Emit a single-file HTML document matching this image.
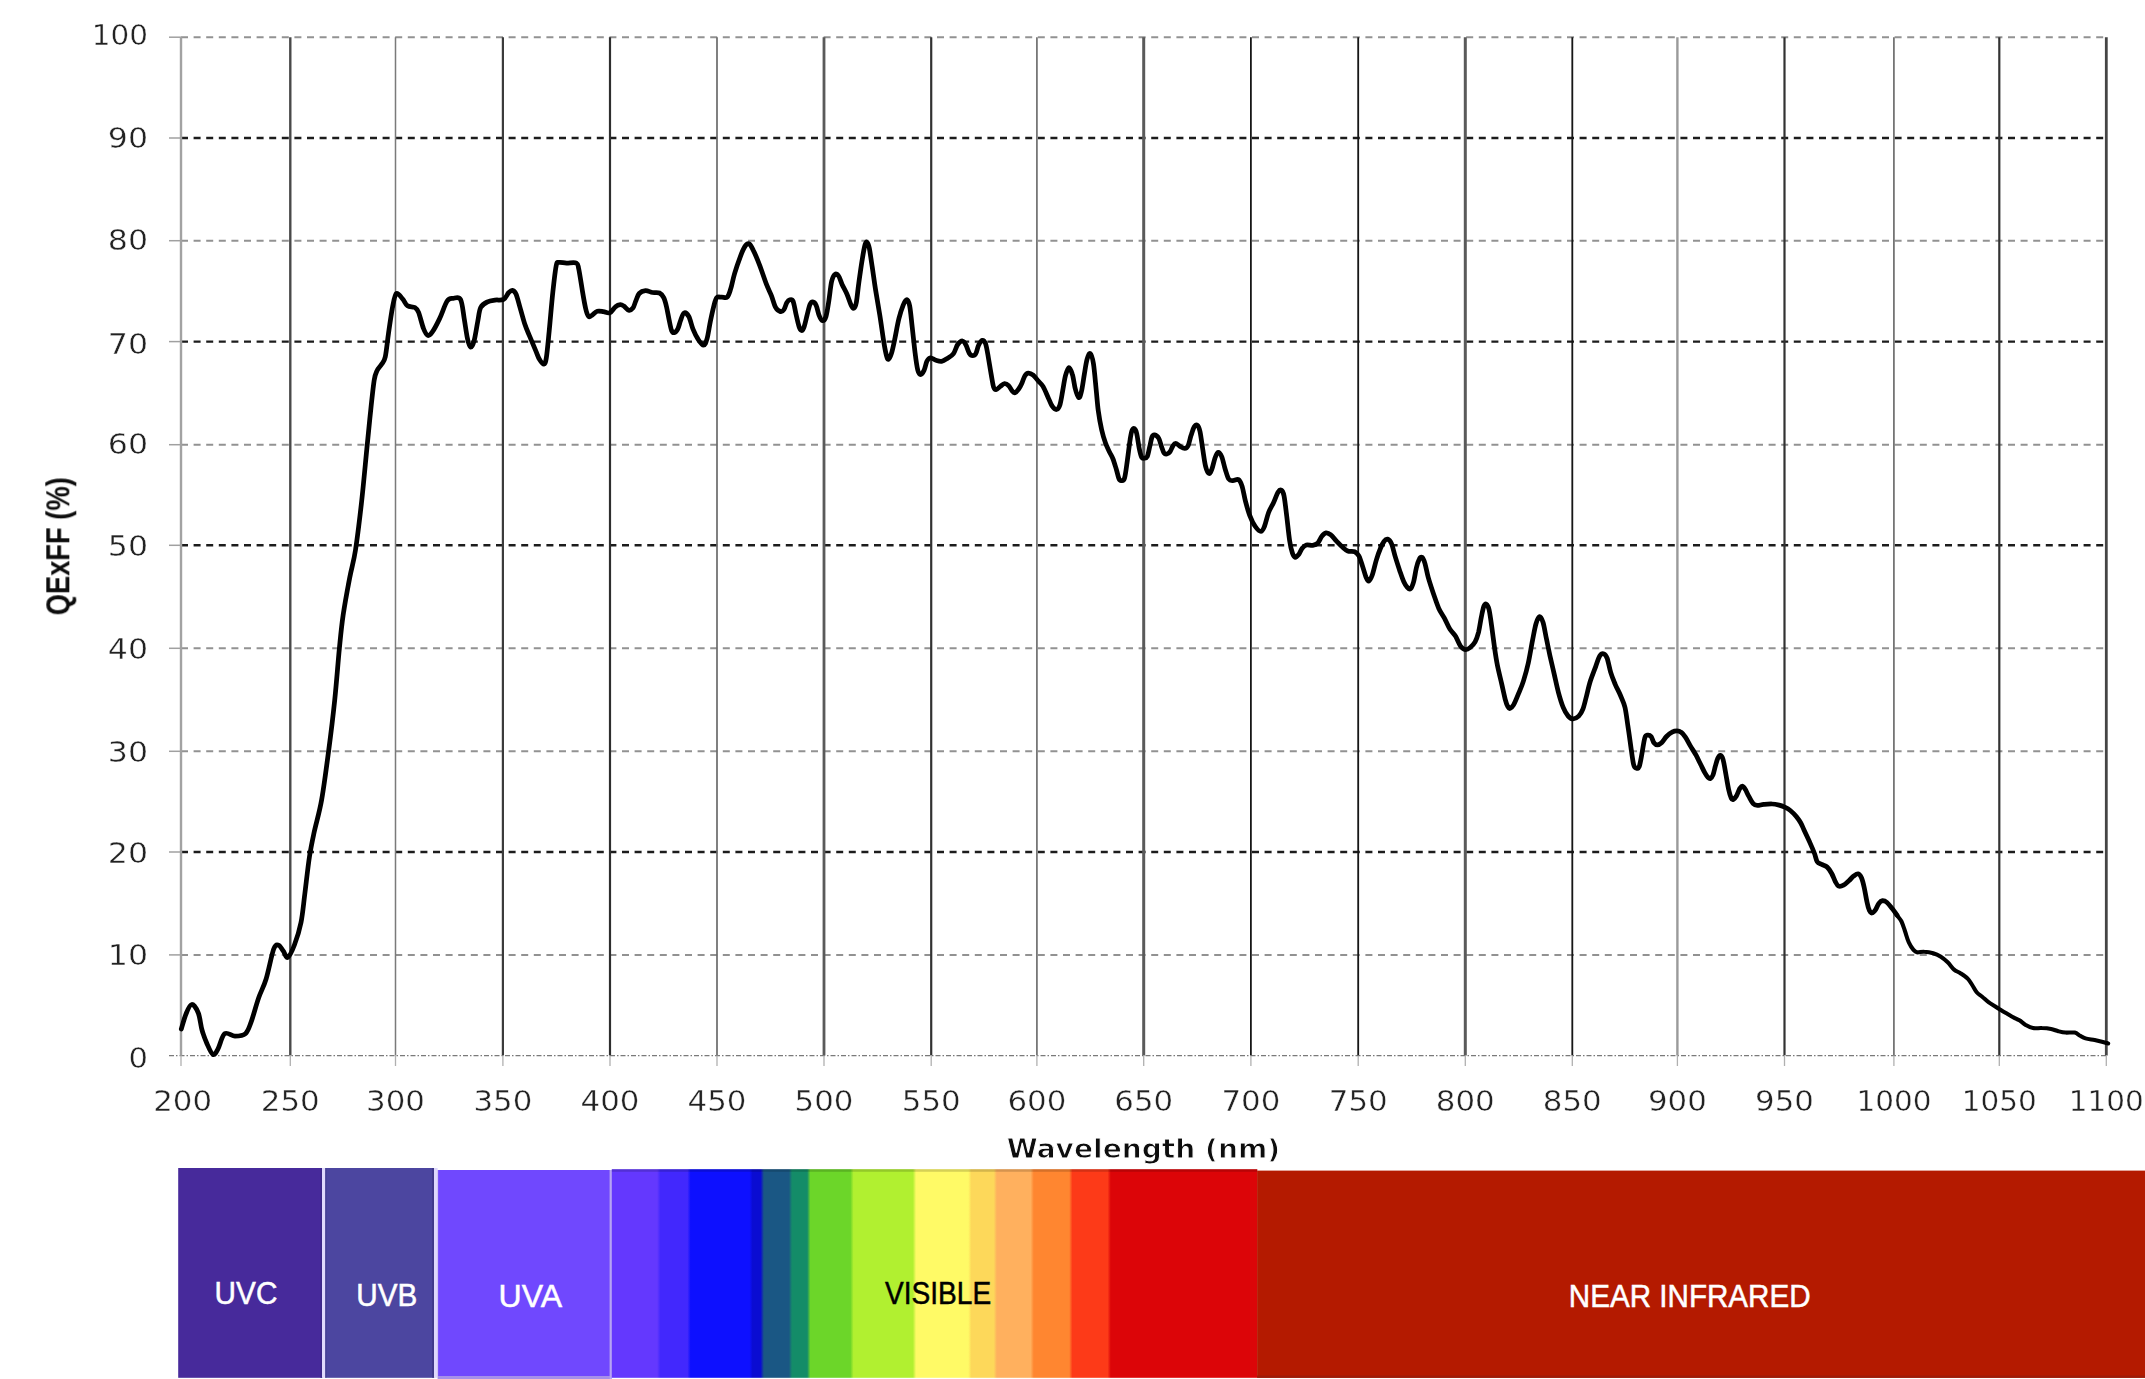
<!DOCTYPE html>
<html lang="en"><head><meta charset="utf-8"><title>QExFF vs Wavelength</title>
<style>html,body{margin:0;padding:0;background:#fff;}body{width:2145px;height:1379px;overflow:hidden;}svg{display:block;}.t{font-family:"DejaVu Sans","Liberation Sans",sans-serif;font-size:29.2px;fill:#222;stroke:#fff;stroke-width:0.4px;}.b{font-family:"Liberation Sans","DejaVu Sans",sans-serif;fill:#fff;font-size:31.3px;stroke-width:0.5px;}</style></head><body>
<svg width="2145" height="1379" viewBox="0 0 2145 1379">
<rect width="2145" height="1379" fill="#fff"/>
<defs><filter id="soft" x="0" y="0" width="2145" height="1379" filterUnits="userSpaceOnUse"><feGaussianBlur stdDeviation="0.55"/></filter></defs>
<g filter="url(#soft)">
<g fill="none">
<line x1="169" x2="181.0" y1="37.2" y2="37.2" stroke="#a0a0a0" stroke-width="1.5"/>
<line x1="181.0" x2="2107.3" y1="37.2" y2="37.2" stroke="#929292" stroke-width="2.0" stroke-dasharray="7 5.6"/>
<line x1="169" x2="181.0" y1="138.0" y2="138.0" stroke="#a0a0a0" stroke-width="1.5"/>
<line x1="181.0" x2="2107.3" y1="138.0" y2="138.0" stroke="#1e1e1e" stroke-width="2.4" stroke-dasharray="7 5.6"/>
<line x1="169" x2="181.0" y1="240.7" y2="240.7" stroke="#a0a0a0" stroke-width="1.5"/>
<line x1="181.0" x2="2107.3" y1="240.7" y2="240.7" stroke="#929292" stroke-width="2.0" stroke-dasharray="7 5.6"/>
<line x1="169" x2="181.0" y1="341.6" y2="341.6" stroke="#a0a0a0" stroke-width="1.5"/>
<line x1="181.0" x2="2107.3" y1="341.6" y2="341.6" stroke="#1e1e1e" stroke-width="2.4" stroke-dasharray="7 5.6"/>
<line x1="169" x2="181.0" y1="444.7" y2="444.7" stroke="#a0a0a0" stroke-width="1.5"/>
<line x1="181.0" x2="2107.3" y1="444.7" y2="444.7" stroke="#929292" stroke-width="2.0" stroke-dasharray="7 5.6"/>
<line x1="169" x2="181.0" y1="545.3" y2="545.3" stroke="#a0a0a0" stroke-width="1.5"/>
<line x1="181.0" x2="2107.3" y1="545.3" y2="545.3" stroke="#1e1e1e" stroke-width="2.4" stroke-dasharray="7 5.6"/>
<line x1="169" x2="181.0" y1="648.3" y2="648.3" stroke="#a0a0a0" stroke-width="1.5"/>
<line x1="181.0" x2="2107.3" y1="648.3" y2="648.3" stroke="#929292" stroke-width="2.0" stroke-dasharray="7 5.6"/>
<line x1="169" x2="181.0" y1="751.3" y2="751.3" stroke="#a0a0a0" stroke-width="1.5"/>
<line x1="181.0" x2="2107.3" y1="751.3" y2="751.3" stroke="#929292" stroke-width="2.0" stroke-dasharray="7 5.6"/>
<line x1="169" x2="181.0" y1="852.0" y2="852.0" stroke="#a0a0a0" stroke-width="1.5"/>
<line x1="181.0" x2="2107.3" y1="852.0" y2="852.0" stroke="#1e1e1e" stroke-width="2.4" stroke-dasharray="7 5.6"/>
<line x1="169" x2="181.0" y1="954.9" y2="954.9" stroke="#a0a0a0" stroke-width="1.5"/>
<line x1="181.0" x2="2107.3" y1="954.9" y2="954.9" stroke="#929292" stroke-width="2.0" stroke-dasharray="7 5.6"/>
<line x1="169" x2="2107.3" y1="1055.6" y2="1055.6" stroke="#7a7a7a" stroke-width="1.3" stroke-dasharray="5 2 1.5 2"/>
<line x1="181.0" x2="181.0" y1="37.2" y2="1055.6" stroke="#a2a2a2" stroke-width="2.4"/>
<line x1="181.0" x2="181.0" y1="1055.6" y2="1066" stroke="#b0b0b0" stroke-width="1.3"/>
<line x1="290.3" x2="290.3" y1="37.2" y2="1055.6" stroke="#4a4a4a" stroke-width="2.4"/>
<line x1="290.3" x2="290.3" y1="1055.6" y2="1066" stroke="#b0b0b0" stroke-width="1.3"/>
<line x1="395.5" x2="395.5" y1="37.2" y2="1055.6" stroke="#7a7a7a" stroke-width="1.5"/>
<line x1="395.5" x2="395.5" y1="1055.6" y2="1066" stroke="#b0b0b0" stroke-width="1.3"/>
<line x1="502.9" x2="502.9" y1="37.2" y2="1055.6" stroke="#3a3a3a" stroke-width="2.2"/>
<line x1="502.9" x2="502.9" y1="1055.6" y2="1066" stroke="#b0b0b0" stroke-width="1.3"/>
<line x1="610.0" x2="610.0" y1="37.2" y2="1055.6" stroke="#2e2e2e" stroke-width="2.2"/>
<line x1="610.0" x2="610.0" y1="1055.6" y2="1066" stroke="#b0b0b0" stroke-width="1.3"/>
<line x1="717.0" x2="717.0" y1="37.2" y2="1055.6" stroke="#6a6a6a" stroke-width="1.7"/>
<line x1="717.0" x2="717.0" y1="1055.6" y2="1066" stroke="#b0b0b0" stroke-width="1.3"/>
<line x1="824.0" x2="824.0" y1="37.2" y2="1055.6" stroke="#5a5a5a" stroke-width="2.8"/>
<line x1="824.0" x2="824.0" y1="1055.6" y2="1066" stroke="#b0b0b0" stroke-width="1.3"/>
<line x1="931.2" x2="931.2" y1="37.2" y2="1055.6" stroke="#333333" stroke-width="2.2"/>
<line x1="931.2" x2="931.2" y1="1055.6" y2="1066" stroke="#b0b0b0" stroke-width="1.3"/>
<line x1="1036.9" x2="1036.9" y1="37.2" y2="1055.6" stroke="#777777" stroke-width="1.8"/>
<line x1="1036.9" x2="1036.9" y1="1055.6" y2="1066" stroke="#b0b0b0" stroke-width="1.3"/>
<line x1="1143.7" x2="1143.7" y1="37.2" y2="1055.6" stroke="#5a5a5a" stroke-width="3.0"/>
<line x1="1143.7" x2="1143.7" y1="1055.6" y2="1066" stroke="#b0b0b0" stroke-width="1.3"/>
<line x1="1250.9" x2="1250.9" y1="37.2" y2="1055.6" stroke="#161616" stroke-width="1.8"/>
<line x1="1250.9" x2="1250.9" y1="1055.6" y2="1066" stroke="#b0b0b0" stroke-width="1.3"/>
<line x1="1358.2" x2="1358.2" y1="37.2" y2="1055.6" stroke="#161616" stroke-width="1.8"/>
<line x1="1358.2" x2="1358.2" y1="1055.6" y2="1066" stroke="#b0b0b0" stroke-width="1.3"/>
<line x1="1465.3" x2="1465.3" y1="37.2" y2="1055.6" stroke="#5a5a5a" stroke-width="3.0"/>
<line x1="1465.3" x2="1465.3" y1="1055.6" y2="1066" stroke="#b0b0b0" stroke-width="1.3"/>
<line x1="1572.3" x2="1572.3" y1="37.2" y2="1055.6" stroke="#161616" stroke-width="1.8"/>
<line x1="1572.3" x2="1572.3" y1="1055.6" y2="1066" stroke="#b0b0b0" stroke-width="1.3"/>
<line x1="1677.4" x2="1677.4" y1="37.2" y2="1055.6" stroke="#9a9a9a" stroke-width="2.4"/>
<line x1="1677.4" x2="1677.4" y1="1055.6" y2="1066" stroke="#b0b0b0" stroke-width="1.3"/>
<line x1="1784.5" x2="1784.5" y1="37.2" y2="1055.6" stroke="#333333" stroke-width="2.2"/>
<line x1="1784.5" x2="1784.5" y1="1055.6" y2="1066" stroke="#b0b0b0" stroke-width="1.3"/>
<line x1="1893.9" x2="1893.9" y1="37.2" y2="1055.6" stroke="#6e6e6e" stroke-width="1.7"/>
<line x1="1893.9" x2="1893.9" y1="1055.6" y2="1066" stroke="#b0b0b0" stroke-width="1.3"/>
<line x1="1999.3" x2="1999.3" y1="37.2" y2="1055.6" stroke="#333333" stroke-width="2.2"/>
<line x1="1999.3" x2="1999.3" y1="1055.6" y2="1066" stroke="#b0b0b0" stroke-width="1.3"/>
<line x1="2106.3" x2="2106.3" y1="37.2" y2="1055.6" stroke="#444444" stroke-width="2.8"/>
<line x1="2106.3" x2="2106.3" y1="1055.6" y2="1066" stroke="#b0b0b0" stroke-width="1.3"/>
</g>
<path d="M181.3 1029.0C182.1 1026.5 184.3 1018.1 186.0 1014.0C187.7 1009.9 189.6 1004.7 191.7 1004.5C193.8 1004.3 196.6 1008.8 198.3 1013.0C200.0 1017.2 200.6 1025.0 202.0 1030.0C203.4 1035.0 205.0 1039.1 206.8 1043.2C208.6 1047.3 211.1 1053.6 213.0 1054.5C214.9 1055.4 216.1 1052.3 218.0 1048.8C219.9 1045.3 221.9 1035.8 224.7 1033.7C227.5 1031.6 231.6 1036.0 235.0 1036.0C238.4 1036.0 242.7 1036.0 245.4 1033.7C248.1 1031.4 248.8 1028.3 251.0 1022.4C253.2 1016.4 256.1 1005.2 258.6 998.0C261.1 990.8 263.6 987.2 266.1 979.0C268.6 970.8 271.6 954.6 273.7 949.0C275.8 943.4 276.8 944.8 278.4 945.1C280.0 945.4 281.5 948.8 283.1 950.8C284.7 952.8 285.9 958.4 287.8 957.4C289.7 956.4 292.2 950.8 294.4 945.0C296.6 939.2 299.3 931.0 301.0 922.5C302.7 914.0 303.4 905.0 304.8 894.0C306.2 883.0 307.9 866.8 309.5 856.5C311.1 846.2 312.2 841.4 314.2 832.0C316.2 822.6 319.2 813.5 321.6 800.0C324.0 786.5 326.4 767.7 328.6 751.1C330.8 734.5 332.9 717.4 334.7 700.2C336.5 683.1 338.0 662.3 339.4 648.2C340.8 634.1 341.4 627.1 343.1 615.4C344.8 603.6 347.6 588.6 349.7 577.7C351.8 566.8 353.6 562.4 355.5 550.0C357.4 537.6 359.5 520.3 361.4 503.5C363.3 486.7 365.3 464.4 366.8 449.2C368.3 434.0 369.3 423.8 370.5 412.3C371.7 400.8 373.1 387.2 374.2 380.2C375.3 373.2 376.0 373.1 377.2 370.4C378.4 367.7 380.2 366.5 381.6 364.2C383.0 361.9 384.2 361.9 385.3 356.8C386.4 351.7 387.3 341.8 388.5 333.4C389.7 325.0 391.4 312.9 392.7 306.3C394.0 299.7 394.8 294.7 396.4 293.5C398.0 292.3 400.8 296.8 402.6 298.9C404.5 300.9 405.4 304.4 407.5 305.8C409.6 307.2 413.0 306.4 414.9 307.5C416.8 308.6 417.2 308.9 418.6 312.4C420.0 315.9 422.0 324.7 423.5 328.5C425.0 332.3 426.2 334.8 427.7 335.4C429.1 336.0 430.2 335.0 432.2 332.2C434.2 329.4 437.1 323.8 439.6 318.6C442.1 313.5 444.8 304.7 447.0 301.3C449.2 297.9 450.9 298.7 453.1 298.4C455.4 298.1 458.6 296.0 460.5 299.4C462.4 302.8 463.1 312.1 464.2 318.6C465.3 325.1 466.4 333.6 467.4 338.3C468.4 343.0 469.3 346.6 470.4 347.0C471.5 347.4 472.9 345.1 474.1 340.8C475.3 336.5 476.7 326.7 477.8 321.1C478.9 315.6 479.1 310.7 480.7 307.5C482.3 304.3 485.2 303.0 487.6 301.8C490.0 300.6 492.3 300.5 495.0 300.1C497.7 299.7 501.3 300.6 503.6 299.4C505.9 298.2 507.2 294.2 508.6 292.7C510.1 291.2 511.1 290.1 512.3 290.3C513.5 290.5 514.8 291.3 516.0 294.0C517.2 296.7 518.3 301.4 519.7 306.3C521.1 311.2 523.0 318.6 524.6 323.5C526.2 328.4 527.6 331.4 529.5 335.9C531.4 340.4 534.1 346.8 535.7 350.7C537.4 354.6 538.0 357.1 539.4 359.3C540.8 361.6 542.6 364.4 543.8 364.2C544.9 364.0 545.4 363.6 546.3 358.0C547.2 352.4 548.1 342.0 549.2 330.9C550.3 319.8 551.7 302.4 552.9 291.5C554.1 280.6 555.2 270.5 556.2 265.6C557.2 260.8 557.4 262.8 559.1 262.4C560.8 262.0 563.6 263.0 566.5 263.1C569.4 263.2 574.4 262.1 576.4 263.1C578.4 264.1 577.8 264.6 578.8 269.3C579.8 274.0 581.4 284.9 582.5 291.5C583.6 298.1 584.7 304.5 585.7 308.7C586.7 312.9 587.6 315.6 588.7 316.6C589.8 317.6 591.0 315.8 592.4 314.9C593.8 314.0 595.4 311.7 597.3 311.2C599.1 310.7 601.4 311.4 603.5 311.7C605.6 312.0 607.8 313.6 609.8 312.8C611.8 312.0 613.6 308.2 615.4 306.8C617.1 305.4 618.9 304.8 620.3 304.7C621.7 304.6 622.4 305.1 623.8 306.0C625.2 306.9 627.2 309.8 628.7 310.2C630.2 310.6 631.7 309.6 632.9 308.1C634.1 306.6 634.7 303.6 635.7 301.2C636.8 298.8 637.6 295.2 639.2 293.5C640.8 291.8 643.3 290.9 645.5 290.7C647.7 290.5 650.2 292.1 652.5 292.5C654.8 292.9 657.6 292.1 659.5 293.0C661.4 293.9 662.5 295.4 663.7 297.7C664.9 300.0 665.6 302.9 666.5 306.7C667.4 310.5 668.4 316.7 669.3 320.7C670.1 324.7 670.8 328.5 671.6 330.5C672.4 332.5 673.2 332.8 674.2 332.6C675.2 332.4 676.7 331.1 677.7 329.1C678.8 327.1 679.5 323.4 680.5 320.7C681.5 318.0 682.6 313.7 684.0 313.0C685.4 312.3 687.3 313.8 688.8 316.5C690.3 319.2 691.5 325.4 693.0 329.1C694.5 332.8 696.1 336.2 697.9 338.9C699.6 341.6 702.0 345.2 703.5 345.2C705.0 345.2 705.8 343.0 707.0 338.9C708.2 334.8 709.3 326.3 710.5 320.7C711.7 315.1 713.0 309.2 714.0 305.4C715.0 301.6 715.5 299.1 716.8 297.7C718.1 296.3 720.0 297.3 721.7 297.2C723.5 297.1 725.8 298.4 727.3 297.0C728.8 295.6 729.6 292.3 730.8 288.6C732.0 284.9 732.8 279.7 734.3 274.6C735.8 269.5 738.1 262.5 739.9 257.8C741.6 253.1 743.3 248.9 744.8 246.6C746.3 244.3 747.6 243.2 749.0 243.8C750.4 244.4 751.5 246.6 753.2 250.1C755.0 253.6 757.3 259.1 759.5 264.8C761.7 270.5 764.5 279.3 766.5 284.4C768.5 289.5 769.9 291.8 771.4 295.6C772.9 299.4 774.1 304.7 775.6 307.4C777.1 310.1 779.1 311.2 780.5 311.6C781.9 312.0 783.0 311.0 784.0 309.5C785.0 308.0 785.9 304.2 786.8 302.6C787.7 301.0 788.5 300.0 789.6 299.8C790.7 299.6 792.1 298.9 793.1 301.2C794.1 303.5 794.9 309.3 795.9 313.7C796.9 318.1 798.3 324.9 799.4 327.7C800.5 330.5 801.4 330.7 802.2 330.5C803.0 330.3 803.5 328.9 804.3 326.3C805.1 323.7 806.2 318.7 807.1 315.1C808.0 311.5 809.0 306.9 809.9 304.7C810.8 302.5 811.7 301.8 812.7 301.9C813.8 302.0 815.2 303.2 816.2 305.4C817.2 307.6 818.0 312.6 819.0 315.1C820.0 317.7 821.3 320.5 822.5 320.7C823.7 320.9 825.0 319.8 826.0 316.5C827.0 313.2 827.9 307.0 828.8 301.2C829.7 295.4 830.6 286.1 831.6 281.6C832.6 277.1 833.8 275.2 835.0 274.3C836.2 273.4 837.4 274.3 838.6 276.0C839.8 277.7 840.7 281.4 842.1 284.4C843.5 287.4 845.5 290.7 847.0 294.2C848.5 297.7 850.0 303.1 851.2 305.4C852.4 307.7 853.1 308.6 854.0 308.1C854.9 307.6 855.5 306.8 856.3 302.6C857.1 298.4 857.8 290.2 858.8 283.0C859.8 275.8 861.2 265.6 862.3 259.2C863.3 252.8 864.3 247.3 865.1 244.5C865.9 241.7 866.3 241.8 867.0 242.4C867.7 243.0 868.4 244.0 869.3 248.0C870.1 252.0 871.0 259.2 872.1 266.2C873.2 273.2 874.3 281.9 875.6 290.0C876.9 298.1 878.4 306.4 879.8 315.1C881.2 323.8 882.7 335.2 883.8 342.0C884.9 348.8 885.8 353.1 886.6 356.0C887.4 358.9 887.7 359.7 888.5 359.2C889.3 358.7 890.4 356.6 891.5 353.2C892.6 349.8 893.7 344.3 894.9 338.5C896.1 332.7 897.5 324.1 898.9 318.6C900.3 313.1 901.8 308.5 903.1 305.3C904.4 302.1 905.8 299.6 906.9 299.7C908.0 299.8 908.8 301.4 909.7 306.0C910.6 310.6 911.3 319.3 912.2 327.0C913.1 334.7 914.1 345.0 915.0 352.2C915.9 359.4 916.9 366.6 917.8 370.3C918.7 374.0 919.5 374.5 920.6 374.5C921.7 374.5 923.1 372.5 924.1 370.3C925.1 368.1 925.9 363.4 926.9 361.3C927.9 359.2 928.9 358.0 930.4 357.8C931.9 357.6 934.1 359.7 936.0 360.3C937.9 360.9 939.7 361.6 941.6 361.3C943.5 361.0 945.2 359.8 947.2 358.5C949.2 357.2 951.8 355.9 953.5 353.6C955.2 351.3 956.2 346.6 957.7 344.5C959.2 342.4 961.2 340.9 962.6 341.0C964.0 341.1 964.9 343.1 966.0 345.2C967.1 347.3 968.4 351.9 969.5 353.6C970.6 355.4 971.6 355.7 972.6 355.7C973.6 355.7 974.8 355.4 975.8 353.6C976.8 351.9 977.5 347.4 978.6 345.2C979.7 343.0 980.9 340.5 982.1 340.3C983.3 340.1 984.6 340.9 985.6 343.8C986.6 346.7 987.5 352.7 988.4 357.8C989.3 362.9 990.3 369.6 991.2 374.5C992.1 379.4 992.8 384.6 993.6 387.1C994.4 389.6 995.0 389.8 996.1 389.7C997.2 389.6 998.9 387.4 1000.3 386.4C1001.7 385.4 1003.1 383.7 1004.5 383.6C1005.9 383.5 1007.4 384.4 1008.7 385.7C1010.0 386.9 1011.2 389.9 1012.2 391.1C1013.2 392.3 1014.0 393.0 1015.0 392.7C1016.0 392.4 1017.3 390.8 1018.5 389.2C1019.7 387.6 1021.0 385.1 1022.0 382.9C1023.0 380.7 1023.8 377.5 1024.8 375.9C1025.8 374.3 1026.9 373.2 1028.3 373.1C1029.7 373.0 1031.6 373.9 1033.2 375.2C1034.8 376.5 1036.5 378.9 1038.1 380.8C1039.7 382.7 1041.4 383.7 1043.0 386.4C1044.6 389.1 1046.4 393.6 1047.9 396.9C1049.4 400.2 1050.6 403.9 1052.1 406.0C1053.5 408.1 1055.3 409.6 1056.6 409.5C1057.9 409.4 1058.8 408.3 1059.8 405.3C1060.8 402.3 1061.7 396.2 1062.6 391.3C1063.5 386.4 1064.4 379.8 1065.4 375.9C1066.5 371.9 1067.7 367.8 1068.9 367.6C1070.1 367.4 1071.4 371.0 1072.4 374.5C1073.5 378.0 1074.2 384.6 1075.2 388.5C1076.2 392.4 1077.7 397.1 1078.7 397.6C1079.8 398.1 1080.6 395.2 1081.5 391.3C1082.4 387.4 1083.4 379.9 1084.3 374.5C1085.2 369.1 1086.1 362.7 1087.1 359.2C1088.1 355.7 1089.2 352.9 1090.3 353.6C1091.3 354.3 1092.4 357.3 1093.4 363.4C1094.4 369.4 1095.4 382.0 1096.2 389.9C1097.0 397.8 1097.4 404.2 1098.3 410.9C1099.2 417.6 1100.5 424.6 1101.7 430.0C1102.9 435.4 1104.2 439.3 1105.5 443.0C1106.8 446.7 1108.2 449.3 1109.5 452.0C1110.8 454.7 1111.8 456.0 1113.0 459.0C1114.2 462.0 1115.5 466.8 1116.5 470.0C1117.5 473.2 1118.0 476.5 1118.8 478.3C1119.5 480.1 1120.0 480.6 1121.0 480.6C1122.0 480.6 1123.5 481.6 1124.5 478.3C1125.5 475.0 1126.4 467.2 1127.3 460.8C1128.2 454.4 1129.3 444.8 1130.1 439.8C1130.9 434.8 1131.2 432.6 1131.9 430.7C1132.6 428.8 1133.5 428.1 1134.3 428.6C1135.1 429.1 1135.9 430.2 1136.7 433.5C1137.5 436.8 1138.4 444.2 1139.2 448.2C1140.0 452.2 1140.8 455.6 1141.7 457.3C1142.6 459.0 1143.6 458.3 1144.5 458.2C1145.4 458.1 1146.4 458.5 1147.3 456.6C1148.2 454.7 1148.9 450.1 1149.7 446.8C1150.5 443.5 1151.2 439.0 1152.0 437.0C1152.8 435.0 1153.5 434.7 1154.6 434.9C1155.7 435.1 1157.6 436.4 1158.8 438.4C1160.0 440.4 1160.7 444.4 1161.6 446.8C1162.5 449.2 1163.2 451.9 1164.1 453.1C1165.0 454.3 1165.9 454.2 1166.9 454.0C1167.9 453.8 1169.0 453.0 1170.0 451.7C1171.0 450.4 1171.9 447.5 1172.8 446.1C1173.7 444.7 1174.4 443.3 1175.6 443.3C1176.8 443.3 1178.3 445.2 1179.8 446.1C1181.3 447.0 1183.3 448.5 1184.7 448.4C1186.1 448.3 1187.2 447.5 1188.2 445.4C1189.2 443.3 1190.0 438.6 1191.0 435.6C1192.0 432.6 1193.0 428.9 1194.0 427.2C1195.0 425.4 1196.2 424.4 1197.2 425.1C1198.2 425.8 1199.1 427.3 1200.0 431.4C1200.9 435.5 1201.9 443.8 1202.8 449.6C1203.7 455.4 1204.6 462.4 1205.6 466.4C1206.6 470.4 1207.9 472.9 1208.9 473.4C1210.0 473.9 1210.9 471.8 1211.9 469.2C1212.9 466.6 1214.0 460.8 1215.0 458.0C1216.0 455.2 1217.1 452.6 1218.2 452.4C1219.3 452.2 1220.5 453.8 1221.7 456.6C1222.9 459.4 1224.0 465.5 1225.2 469.2C1226.4 472.9 1227.4 477.1 1228.7 479.0C1230.0 480.9 1231.3 480.5 1232.9 480.6C1234.5 480.7 1237.0 478.7 1238.5 479.6C1240.0 480.5 1240.8 482.3 1242.0 485.9C1243.2 489.5 1244.2 496.4 1245.5 501.3C1246.8 506.2 1248.1 511.1 1249.7 515.3C1251.3 519.5 1253.4 523.8 1255.3 526.5C1257.2 529.2 1259.4 531.4 1260.9 531.4C1262.4 531.4 1263.1 529.6 1264.4 526.5C1265.7 523.4 1267.1 516.5 1268.6 512.5C1270.1 508.5 1271.9 506.1 1273.5 502.7C1275.1 499.3 1276.7 494.3 1278.0 492.2C1279.3 490.1 1280.2 489.5 1281.2 490.1C1282.2 490.7 1283.1 491.3 1284.0 495.7C1284.9 500.1 1285.9 509.2 1286.8 516.7C1287.7 524.2 1288.7 534.4 1289.6 540.5C1290.5 546.6 1291.5 550.3 1292.4 553.1C1293.3 555.9 1294.2 557.1 1295.2 557.3C1296.2 557.5 1297.5 556.0 1298.7 554.5C1299.9 553.0 1300.9 549.8 1302.2 548.2C1303.5 546.6 1304.7 545.5 1306.4 545.0C1308.2 544.5 1310.8 545.7 1312.7 545.4C1314.6 545.1 1316.1 544.8 1317.6 543.3C1319.1 541.8 1320.4 538.0 1321.8 536.3C1323.2 534.5 1324.5 533.0 1326.0 532.8C1327.5 532.6 1329.2 533.5 1330.9 534.9C1332.7 536.3 1334.6 539.2 1336.5 541.2C1338.4 543.2 1340.2 545.2 1342.1 546.8C1344.0 548.4 1345.6 550.2 1347.7 551.0C1349.8 551.8 1352.8 550.9 1354.7 551.7C1356.6 552.5 1357.6 553.6 1358.9 555.9C1360.2 558.2 1361.2 562.2 1362.4 565.7C1363.6 569.2 1364.9 574.3 1365.9 576.9C1367.0 579.5 1367.7 581.3 1368.7 581.1C1369.7 580.9 1370.8 579.0 1372.1 575.5C1373.4 572.0 1374.9 564.7 1376.3 560.1C1377.7 555.5 1379.3 551.1 1380.6 548.0C1381.9 544.9 1382.9 543.0 1384.0 541.5C1385.1 540.0 1386.2 538.8 1387.4 539.1C1388.7 539.5 1390.2 540.6 1391.5 543.6C1392.8 546.6 1393.9 552.4 1395.3 556.9C1396.7 561.4 1398.4 566.8 1399.8 570.9C1401.2 575.0 1402.5 579.0 1403.8 581.8C1405.0 584.5 1406.2 586.2 1407.3 587.4C1408.4 588.6 1409.5 589.7 1410.5 588.8C1411.5 587.9 1412.6 585.3 1413.6 581.8C1414.6 578.3 1415.5 571.5 1416.4 567.8C1417.3 564.1 1418.3 561.1 1419.2 559.4C1420.1 557.6 1421.0 556.6 1422.0 557.3C1423.0 558.0 1424.0 560.2 1425.0 563.6C1426.0 567.0 1426.9 572.7 1428.3 577.6C1429.7 582.5 1431.5 587.9 1433.2 593.0C1435.0 598.1 1436.9 604.2 1438.8 608.4C1440.7 612.6 1442.5 614.6 1444.4 618.1C1446.3 621.6 1448.1 626.3 1450.0 629.3C1451.9 632.3 1453.8 633.5 1455.6 636.3C1457.3 639.1 1458.9 643.9 1460.5 646.1C1462.1 648.3 1463.8 649.4 1465.4 649.6C1467.0 649.8 1468.6 648.8 1470.2 647.5C1471.8 646.2 1473.7 644.5 1475.1 641.9C1476.5 639.3 1477.5 636.3 1478.6 632.1C1479.6 627.9 1480.5 621.0 1481.4 616.7C1482.3 612.4 1483.0 608.4 1483.8 606.3C1484.6 604.2 1485.4 603.6 1486.3 604.2C1487.2 604.8 1488.2 605.8 1489.1 609.8C1490.0 613.8 1491.0 621.4 1491.9 627.9C1492.8 634.4 1493.8 642.6 1494.7 648.9C1495.6 655.2 1496.3 659.9 1497.5 665.7C1498.7 671.5 1500.4 678.3 1501.7 683.9C1503.0 689.5 1504.2 695.4 1505.2 699.3C1506.2 703.1 1507.2 705.5 1508.0 707.0C1508.8 708.5 1509.2 708.8 1510.1 708.4C1511.0 708.0 1512.2 707.3 1513.6 704.9C1515.0 702.5 1516.9 697.7 1518.5 693.7C1520.1 689.7 1521.8 686.2 1523.4 681.1C1525.0 676.0 1526.8 669.7 1528.3 662.9C1529.8 656.1 1531.2 647.0 1532.5 640.5C1533.8 634.0 1534.8 627.7 1536.0 623.7C1537.2 619.7 1538.3 616.9 1539.5 616.7C1540.7 616.5 1541.8 618.6 1543.0 622.3C1544.2 626.0 1545.3 633.5 1546.5 639.1C1547.7 644.7 1548.7 650.1 1550.0 655.9C1551.3 661.7 1552.8 668.0 1554.2 674.1C1555.6 680.2 1556.9 686.7 1558.4 692.3C1559.9 697.9 1561.7 703.7 1563.3 707.7C1564.9 711.7 1566.6 714.2 1568.2 716.1C1569.8 718.0 1571.3 718.9 1573.1 718.9C1574.8 718.9 1577.1 717.7 1578.7 716.1C1580.3 714.5 1581.6 712.4 1582.9 709.1C1584.2 705.8 1585.2 700.9 1586.4 696.5C1587.6 692.1 1588.4 687.4 1589.9 682.5C1591.4 677.6 1593.9 671.5 1595.5 667.1C1597.1 662.7 1598.3 658.2 1599.7 656.0C1601.1 653.8 1602.8 653.5 1604.0 653.9C1605.2 654.3 1606.1 655.3 1607.2 658.4C1608.3 661.5 1609.4 668.1 1610.7 672.4C1612.0 676.7 1613.6 680.4 1615.2 684.3C1616.8 688.1 1618.9 691.6 1620.5 695.5C1622.1 699.4 1623.8 702.3 1625.0 707.5C1626.2 712.7 1627.0 720.2 1628.0 726.7C1629.0 733.2 1629.9 740.0 1630.8 746.3C1631.7 752.6 1632.7 760.9 1633.6 764.5C1634.5 768.1 1635.2 767.6 1636.1 768.0C1637.0 768.4 1638.2 769.1 1639.2 766.6C1640.2 764.1 1641.1 758.1 1642.0 753.3C1642.9 748.5 1643.9 740.9 1644.8 737.9C1645.7 734.9 1646.5 735.3 1647.6 735.1C1648.6 734.9 1650.0 735.2 1651.1 736.5C1652.1 737.8 1652.9 741.4 1653.9 742.8C1655.0 744.2 1656.1 744.9 1657.4 744.9C1658.7 744.9 1660.1 744.2 1661.6 742.8C1663.1 741.4 1664.8 738.3 1666.5 736.5C1668.2 734.7 1670.3 733.0 1672.1 732.1C1673.8 731.2 1675.5 730.9 1677.0 730.9C1678.5 730.9 1679.8 731.2 1681.2 732.3C1682.6 733.3 1683.9 735.0 1685.4 737.2C1686.9 739.4 1688.5 742.7 1690.2 745.6C1691.9 748.5 1694.0 751.6 1695.8 754.7C1697.5 757.9 1699.2 761.5 1700.7 764.5C1702.2 767.5 1703.7 770.8 1704.9 772.9C1706.1 775.0 1706.8 776.2 1707.7 777.1C1708.6 778.0 1709.4 778.9 1710.3 778.5C1711.2 778.1 1712.2 777.1 1713.0 775.0C1713.8 772.9 1714.6 768.7 1715.4 765.9C1716.2 763.1 1717.0 760.0 1717.8 758.2C1718.6 756.5 1719.4 755.2 1720.3 755.4C1721.2 755.6 1722.2 756.5 1723.1 759.6C1724.0 762.8 1725.0 769.3 1725.9 774.3C1726.8 779.3 1727.8 785.7 1728.7 789.7C1729.6 793.7 1730.5 796.5 1731.2 798.1C1732.0 799.7 1732.3 799.9 1733.2 799.5C1734.1 799.1 1735.3 797.9 1736.4 796.0C1737.5 794.1 1738.9 789.9 1739.9 788.3C1741.0 786.7 1741.8 786.0 1742.7 786.2C1743.6 786.4 1744.5 788.0 1745.5 789.7C1746.5 791.5 1747.7 794.4 1749.0 796.7C1750.3 799.0 1751.8 802.2 1753.2 803.7C1754.6 805.2 1755.7 805.3 1757.4 805.4C1759.2 805.5 1761.2 804.6 1763.7 804.4C1766.2 804.2 1769.5 803.9 1772.1 804.0C1774.7 804.1 1777.0 804.6 1779.1 805.1C1781.2 805.6 1782.8 806.3 1784.7 807.2C1786.6 808.1 1788.3 808.9 1790.3 810.5C1792.3 812.1 1794.8 814.7 1796.5 816.8C1798.2 818.9 1799.6 820.9 1800.8 823.0C1802.0 825.1 1802.3 826.2 1803.8 829.5C1805.3 832.8 1808.1 838.6 1809.9 842.6C1811.7 846.6 1813.3 850.3 1814.5 853.5C1815.7 856.7 1816.0 859.9 1817.2 861.7C1818.4 863.5 1820.0 863.5 1821.7 864.4C1823.4 865.3 1825.5 865.6 1827.2 867.1C1828.9 868.6 1830.4 871.1 1831.7 873.5C1833.0 875.9 1834.2 879.5 1835.3 881.6C1836.4 883.7 1837.2 885.5 1838.6 886.1C1840.0 886.7 1841.8 886.1 1843.5 885.2C1845.2 884.3 1847.2 882.2 1848.9 880.7C1850.6 879.2 1852.0 877.4 1853.5 876.2C1855.0 875.1 1856.7 873.5 1858.0 873.8C1859.3 874.1 1860.5 875.6 1861.6 878.0C1862.6 880.4 1863.4 883.9 1864.3 888.0C1865.2 892.1 1866.2 898.7 1867.1 902.5C1867.9 906.3 1868.6 908.9 1869.4 910.6C1870.2 912.4 1871.0 913.1 1872.0 913.0C1873.0 912.9 1874.5 911.3 1875.6 909.7C1876.7 908.1 1877.6 904.9 1878.8 903.4C1880.0 901.9 1881.1 900.9 1882.5 900.7C1883.9 900.6 1885.3 901.1 1887.0 902.5C1888.7 903.9 1890.7 906.7 1892.4 908.8C1894.1 910.9 1895.5 913.1 1897.0 915.2" fill="none" stroke="#000" stroke-width="4.75" stroke-linejoin="round" stroke-linecap="round"/>
<path d="M1897.0 915.2C1898.5 917.3 1900.2 918.8 1901.5 921.5C1902.8 924.2 1903.9 928.0 1905.1 931.5C1906.3 935.0 1907.4 939.4 1908.8 942.4C1910.2 945.4 1911.9 948.0 1913.3 949.6C1914.7 951.2 1915.1 951.9 1916.9 952.3C1918.7 952.7 1921.5 951.6 1924.2 951.8C1926.9 951.9 1930.5 952.4 1933.2 953.2C1935.9 954.0 1938.1 955.0 1940.5 956.5C1942.9 958.0 1945.4 960.1 1947.7 962.3C1950.0 964.5 1952.0 967.8 1954.1 969.6C1956.2 971.4 1958.1 971.7 1960.4 973.2C1962.7 974.7 1965.7 976.6 1967.7 978.6C1969.7 980.6 1970.7 982.7 1972.2 985.0C1973.7 987.3 1975.0 990.2 1976.7 992.2C1978.4 994.2 1980.2 995.0 1982.2 996.7C1984.2 998.4 1986.4 1000.6 1988.5 1002.2C1990.6 1003.8 1992.8 1004.9 1994.9 1006.2C1997.0 1007.6 1999.1 1009.0 2001.2 1010.3C2003.3 1011.6 2005.5 1012.8 2007.6 1014.0C2009.7 1015.2 2011.9 1016.6 2013.9 1017.6C2015.9 1018.6 2017.4 1019.1 2019.4 1020.3C2021.4 1021.5 2023.4 1023.6 2025.7 1024.9C2028.0 1026.2 2030.3 1027.6 2033.0 1028.1C2035.7 1028.6 2039.0 1027.9 2042.0 1028.1C2045.0 1028.2 2048.4 1028.5 2051.1 1029.0C2053.8 1029.5 2055.9 1030.6 2058.3 1031.2C2060.7 1031.8 2062.9 1032.4 2065.6 1032.6C2068.3 1032.8 2072.3 1032.1 2074.7 1032.6C2077.1 1033.1 2078.3 1034.7 2080.1 1035.7C2081.9 1036.7 2083.1 1037.7 2085.5 1038.4C2087.9 1039.1 2091.9 1039.4 2094.6 1039.9C2097.3 1040.5 2099.6 1041.1 2101.9 1041.7C2104.2 1042.3 2107.1 1043.2 2108.2 1043.5" fill="none" stroke="#000" stroke-width="4.05" stroke-linejoin="round" stroke-linecap="round"/>
<text class="t" x="148.0" y="45.2" text-anchor="end" textLength="56.3" lengthAdjust="spacingAndGlyphs">100</text>
<text class="t" x="148.0" y="147.7" text-anchor="end" textLength="40.2" lengthAdjust="spacingAndGlyphs">90</text>
<text class="t" x="148.0" y="249.9" text-anchor="end" textLength="40.2" lengthAdjust="spacingAndGlyphs">80</text>
<text class="t" x="148.0" y="353.7" text-anchor="end" textLength="40.2" lengthAdjust="spacingAndGlyphs">70</text>
<text class="t" x="148.0" y="454.4" text-anchor="end" textLength="40.2" lengthAdjust="spacingAndGlyphs">60</text>
<text class="t" x="148.0" y="556.4" text-anchor="end" textLength="40.2" lengthAdjust="spacingAndGlyphs">50</text>
<text class="t" x="148.0" y="658.9" text-anchor="end" textLength="40.2" lengthAdjust="spacingAndGlyphs">40</text>
<text class="t" x="148.0" y="761.9" text-anchor="end" textLength="40.2" lengthAdjust="spacingAndGlyphs">30</text>
<text class="t" x="148.0" y="862.6" text-anchor="end" textLength="40.2" lengthAdjust="spacingAndGlyphs">20</text>
<text class="t" x="148.0" y="964.8" text-anchor="end" textLength="40.2" lengthAdjust="spacingAndGlyphs">10</text>
<text class="t" x="148.0" y="1067.7" text-anchor="end" textLength="19.5" lengthAdjust="spacingAndGlyphs">0</text>
<text class="t" x="182.6" y="1110.8" text-anchor="middle" textLength="58.9" lengthAdjust="spacingAndGlyphs">200</text>
<text class="t" x="290.3" y="1110.8" text-anchor="middle" textLength="58.9" lengthAdjust="spacingAndGlyphs">250</text>
<text class="t" x="395.5" y="1110.8" text-anchor="middle" textLength="58.9" lengthAdjust="spacingAndGlyphs">300</text>
<text class="t" x="502.9" y="1110.8" text-anchor="middle" textLength="58.9" lengthAdjust="spacingAndGlyphs">350</text>
<text class="t" x="610.0" y="1110.8" text-anchor="middle" textLength="58.9" lengthAdjust="spacingAndGlyphs">400</text>
<text class="t" x="717.0" y="1110.8" text-anchor="middle" textLength="58.9" lengthAdjust="spacingAndGlyphs">450</text>
<text class="t" x="824.0" y="1110.8" text-anchor="middle" textLength="58.9" lengthAdjust="spacingAndGlyphs">500</text>
<text class="t" x="931.2" y="1110.8" text-anchor="middle" textLength="58.9" lengthAdjust="spacingAndGlyphs">550</text>
<text class="t" x="1036.9" y="1110.8" text-anchor="middle" textLength="58.9" lengthAdjust="spacingAndGlyphs">600</text>
<text class="t" x="1143.7" y="1110.8" text-anchor="middle" textLength="58.9" lengthAdjust="spacingAndGlyphs">650</text>
<text class="t" x="1250.9" y="1110.8" text-anchor="middle" textLength="58.9" lengthAdjust="spacingAndGlyphs">700</text>
<text class="t" x="1358.2" y="1110.8" text-anchor="middle" textLength="58.9" lengthAdjust="spacingAndGlyphs">750</text>
<text class="t" x="1465.3" y="1110.8" text-anchor="middle" textLength="58.9" lengthAdjust="spacingAndGlyphs">800</text>
<text class="t" x="1572.3" y="1110.8" text-anchor="middle" textLength="58.9" lengthAdjust="spacingAndGlyphs">850</text>
<text class="t" x="1677.4" y="1110.8" text-anchor="middle" textLength="58.9" lengthAdjust="spacingAndGlyphs">900</text>
<text class="t" x="1784.5" y="1110.8" text-anchor="middle" textLength="58.9" lengthAdjust="spacingAndGlyphs">950</text>
<text class="t" x="1893.9" y="1110.8" text-anchor="middle" textLength="75.0" lengthAdjust="spacingAndGlyphs">1000</text>
<text class="t" x="1999.3" y="1110.8" text-anchor="middle" textLength="75.0" lengthAdjust="spacingAndGlyphs">1050</text>
<text class="t" x="2106.3" y="1110.8" text-anchor="middle" textLength="75.0" lengthAdjust="spacingAndGlyphs">1100</text>
<text x="1143.4" y="1158.0" text-anchor="middle" textLength="273.5" lengthAdjust="spacingAndGlyphs" style="font-family:'DejaVu Sans','Liberation Sans',sans-serif;font-weight:bold;font-size:25.7px;fill:#111;stroke:#fff;stroke-width:0.9px">Wavelength (nm)</text>
<text transform="translate(69.3 546.3) rotate(-90)" text-anchor="middle" textLength="138" lengthAdjust="spacingAndGlyphs" style="font-family:'Liberation Sans','DejaVu Sans',sans-serif;font-weight:bold;font-size:33px;fill:#111">QExFF (%)</text>
</g>
<rect x="178.2" y="1168.0" width="144.6" height="209.8" fill="#472a9b"/>
<rect x="322.0" y="1168.0" width="3.5" height="209.8" fill="#e0dafc"/>
<rect x="325.2" y="1168.0" width="109.3" height="209.8" fill="#4c46a0"/>
<rect x="433.9" y="1168.0" width="3.7" height="209.8" fill="#ded8fc"/>
<rect x="320.5" y="1168.0" width="1.5" height="209.8" fill="#3c2888"/>
<rect x="325.5" y="1168.0" width="0.9" height="209.8" fill="#423c8c"/>
<rect x="432.3" y="1168.0" width="1.6" height="209.8" fill="#3c3684"/>
<rect x="437.6" y="1170.0" width="174.2" height="209" fill="#a690ea"/>
<rect x="438.2" y="1170.0" width="171.6" height="206.0" fill="#7048fe"/>
<rect x="609.7" y="1170.0" width="2.2" height="209" fill="#b6a4f4"/>
<defs><linearGradient id="vis" gradientUnits="userSpaceOnUse" x1="611.8" y1="0" x2="1257.1" y2="0">
<stop offset="0.00000" stop-color="#6438fe"/>
<stop offset="0.07020" stop-color="#6438fe"/>
<stop offset="0.07516" stop-color="#4228fd"/>
<stop offset="0.11715" stop-color="#4228fd"/>
<stop offset="0.12211" stop-color="#0d10ff"/>
<stop offset="0.21323" stop-color="#0d10ff"/>
<stop offset="0.21819" stop-color="#0a0cd2"/>
<stop offset="0.23075" stop-color="#0a0cd2"/>
<stop offset="0.23570" stop-color="#1a5784"/>
<stop offset="0.27445" stop-color="#1a5784"/>
<stop offset="0.27940" stop-color="#148c68"/>
<stop offset="0.30280" stop-color="#148c68"/>
<stop offset="0.30776" stop-color="#6cd629"/>
<stop offset="0.36975" stop-color="#6cd629"/>
<stop offset="0.37471" stop-color="#b1f030"/>
<stop offset="0.46660" stop-color="#b1f030"/>
<stop offset="0.47156" stop-color="#fffa66"/>
<stop offset="0.55230" stop-color="#fffa66"/>
<stop offset="0.55726" stop-color="#fdd85a"/>
<stop offset="0.59182" stop-color="#fdd85a"/>
<stop offset="0.59678" stop-color="#ffb05e"/>
<stop offset="0.64900" stop-color="#ffb05e"/>
<stop offset="0.65396" stop-color="#ff8630"/>
<stop offset="0.70882" stop-color="#ff8630"/>
<stop offset="0.71378" stop-color="#fd3a18"/>
<stop offset="0.76832" stop-color="#fd3a18"/>
<stop offset="0.77328" stop-color="#dc0508"/>
<stop offset="1.00000" stop-color="#dc0508"/>
</linearGradient></defs>
<rect x="611.8" y="1169.2" width="645.5" height="208.6" fill="url(#vis)"/>
<rect x="611.8" y="1169.2" width="645.5" height="2.6" fill="#000" opacity="0.16"/>
<rect x="1257.1" y="1170.6" width="888" height="207.2" fill="#b41a00"/>
<rect x="1257.1" y="1375.6" width="888" height="2.2" fill="#9c1c0a"/>
<text class="b" x="214.6" y="1304.2" textLength="62.8" lengthAdjust="spacingAndGlyphs" style="fill:#fff;stroke:#fff">UVC</text>
<text class="b" x="356.2" y="1306.0" textLength="61.1" lengthAdjust="spacingAndGlyphs" style="fill:#fff;stroke:#fff">UVB</text>
<text class="b" x="498.5" y="1306.7" textLength="63.5" lengthAdjust="spacingAndGlyphs" style="fill:#fff;stroke:#fff">UVA</text>
<text class="b" x="885.0" y="1303.5" textLength="106.2" lengthAdjust="spacingAndGlyphs" style="fill:#000;stroke:#000">VISIBLE</text>
<text class="b" x="1568.8" y="1307.0" textLength="241.8" lengthAdjust="spacingAndGlyphs" style="fill:#fff;stroke:#fff">NEAR INFRARED</text>
</svg></body></html>
